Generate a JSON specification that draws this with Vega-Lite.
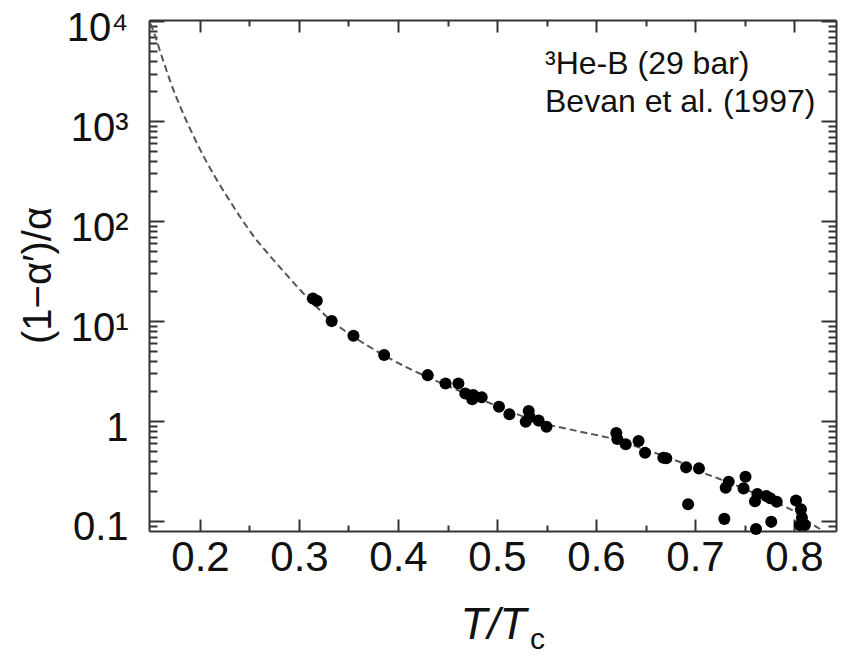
{
  "$schema": "https://vega.github.io/schema/vega-lite/v6.json",
  "width": 687,
  "height": 511,
  "autosize": {"type": "none"},
  "padding": {"left": 149, "top": 20, "right": 7, "bottom": 126},
  "background": "white",
  "config": {
    "view": {"stroke": null},
    "font": "Liberation Sans",
    "axis": {
      "domainColor": "#333",
      "domainWidth": 2,
      "tickColor": "#333",
      "tickWidth": 2,
      "labelFont": "Liberation Sans",
      "labelColor": "#111",
      "titleFont": "Liberation Sans",
      "titleColor": "#111",
      "titleFontWeight": "normal",
      "labelFlush": false,
      "labelOverlap": false,
      "labelBound": false,
      "grid": false
    }
  },
  "datasets": {
    "curve": [
      {"T": 0.150, "R": 9500},
      {"T": 0.155, "R": 7000},
      {"T": 0.160, "R": 4900},
      {"T": 0.165, "R": 3500},
      {"T": 0.170, "R": 2500},
      {"T": 0.175, "R": 1850},
      {"T": 0.180, "R": 1400},
      {"T": 0.1865, "R": 1000},
      {"T": 0.195, "R": 660},
      {"T": 0.205, "R": 420},
      {"T": 0.215, "R": 280},
      {"T": 0.230, "R": 160},
      {"T": 0.242, "R": 105},
      {"T": 0.255, "R": 69},
      {"T": 0.270, "R": 45.7},
      {"T": 0.285, "R": 31},
      {"T": 0.300, "R": 21.1},
      {"T": 0.315, "R": 14.8},
      {"T": 0.333, "R": 10.0},
      {"T": 0.355, "R": 7.0},
      {"T": 0.385, "R": 4.6},
      {"T": 0.410, "R": 3.4},
      {"T": 0.430, "R": 2.75},
      {"T": 0.450, "R": 2.25},
      {"T": 0.470, "R": 1.85},
      {"T": 0.490, "R": 1.55},
      {"T": 0.510, "R": 1.28},
      {"T": 0.530, "R": 1.08},
      {"T": 0.550, "R": 0.93},
      {"T": 0.570, "R": 0.84},
      {"T": 0.590, "R": 0.76},
      {"T": 0.610, "R": 0.69},
      {"T": 0.630, "R": 0.60},
      {"T": 0.650, "R": 0.52},
      {"T": 0.670, "R": 0.44},
      {"T": 0.690, "R": 0.37},
      {"T": 0.706, "R": 0.31},
      {"T": 0.722, "R": 0.27},
      {"T": 0.740, "R": 0.23},
      {"T": 0.760, "R": 0.19},
      {"T": 0.780, "R": 0.155},
      {"T": 0.800, "R": 0.125},
      {"T": 0.815, "R": 0.098},
      {"T": 0.830, "R": 0.079}
    ],
    "points": [
      {"T": 0.314, "R": 16.8},
      {"T": 0.318, "R": 16.0},
      {"T": 0.333, "R": 10.0},
      {"T": 0.355, "R": 7.13},
      {"T": 0.386, "R": 4.57},
      {"T": 0.430, "R": 2.88},
      {"T": 0.448, "R": 2.38},
      {"T": 0.461, "R": 2.38},
      {"T": 0.468, "R": 1.89},
      {"T": 0.476, "R": 1.82},
      {"T": 0.475, "R": 1.65},
      {"T": 0.4845, "R": 1.73},
      {"T": 0.502, "R": 1.39},
      {"T": 0.5125, "R": 1.17},
      {"T": 0.532, "R": 1.26},
      {"T": 0.533, "R": 1.10},
      {"T": 0.529, "R": 0.985},
      {"T": 0.542, "R": 1.01},
      {"T": 0.550, "R": 0.877},
      {"T": 0.6205, "R": 0.76},
      {"T": 0.6215, "R": 0.66},
      {"T": 0.630, "R": 0.585},
      {"T": 0.643, "R": 0.63},
      {"T": 0.6495, "R": 0.482},
      {"T": 0.668, "R": 0.43},
      {"T": 0.671, "R": 0.424},
      {"T": 0.691, "R": 0.344},
      {"T": 0.704, "R": 0.336},
      {"T": 0.693, "R": 0.147},
      {"T": 0.734, "R": 0.247},
      {"T": 0.731, "R": 0.215},
      {"T": 0.751, "R": 0.277},
      {"T": 0.749, "R": 0.212},
      {"T": 0.763, "R": 0.186},
      {"T": 0.7606, "R": 0.158},
      {"T": 0.772, "R": 0.178},
      {"T": 0.776, "R": 0.169},
      {"T": 0.7825, "R": 0.156},
      {"T": 0.7296, "R": 0.105},
      {"T": 0.7616, "R": 0.083},
      {"T": 0.777, "R": 0.098},
      {"T": 0.802, "R": 0.16},
      {"T": 0.807, "R": 0.131},
      {"T": 0.808, "R": 0.108},
      {"T": 0.811, "R": 0.091},
      {"T": 0.806, "R": 0.091}
    ],
    "notes": [
      {"T": 0.5485, "R": 2950, "label": "³He-B (29 bar)"},
      {"T": 0.5485, "R": 1230, "label": "Bevan et al. (1997)"}
    ]
  },
  "layer": [
    {
      "data": {"name": "curve"},
      "mark": {"type": "line", "stroke": "#555", "strokeWidth": 2, "strokeDash": [7, 4], "interpolate": "monotone", "clip": true},
      "encoding": {
        "x": {
          "field": "T", "type": "quantitative",
          "scale": {"domain": [0.1485, 0.8424], "nice": false, "zero": false},
          "axis": {
            "orient": "bottom",
            "values": [0.2, 0.25, 0.3, 0.35, 0.4, 0.45, 0.5, 0.55, 0.6, 0.65, 0.7, 0.75, 0.8],
            "labelExpr": "abs(round(datum.value*10) - datum.value*10) < 0.01 ? format(datum.value, '.1f') : ''",
            "labelFontSize": 42,
            "labelPadding": 18,
            "tickSize": {"condition": {"test": "abs(round(datum.value*10) - datum.value*10) < 0.01", "value": -12}, "value": -6},
            "title": "T/T",
            "titleFontSize": 44,
            "titleFontStyle": "italic",
            "titleX": 344,
            "titleY": 107,
            "titleAlign": "center",
            "titleBaseline": "alphabetic"
          }
        },
        "y": {
          "field": "R", "type": "quantitative",
          "scale": {"type": "log", "domain": [0.0794, 10300], "nice": false},
          "axis": {
            "orient": "left",
            "values": [0.09, 0.1, 0.2, 0.3, 0.4, 0.5, 0.6, 0.7, 0.8, 0.9, 1, 2, 3, 4, 5, 6, 7, 8, 9, 10, 20, 30, 40, 50, 60, 70, 80, 90, 100, 200, 300, 400, 500, 600, 700, 800, 900, 1000, 2000, 3000, 4000, 5000, 6000, 7000, 8000, 9000, 10000],
            "labelExpr": "datum.value == 10000 ? '10⁴' : datum.value == 1000 ? '10³' : datum.value == 100 ? '10²' : datum.value == 10 ? '10¹' : datum.value == 1 ? '1' : datum.value == 0.1 ? '0.1' : ''",
            "labelFontSize": 40,
            "labelPadding": 36,
            "labelOffset": 7,
            "tickSize": {"condition": {"test": "abs(log(datum.value)/log(10) - round(log(datum.value)/log(10))) < 0.01", "value": -15}, "value": -8},
            "title": "(1−α′)/α",
            "titleFontSize": 40,
            "titleAngle": -90,
            "titleX": -99,
            "titleY": 255,
            "titleAlign": "center",
            "titleBaseline": "alphabetic"
          }
        }
      }
    },
    {
      "data": {"name": "points"},
      "mark": {"type": "circle", "size": 145, "color": "#000", "opacity": 1},
      "encoding": {
        "x": {
          "field": "T", "type": "quantitative",
          "axis": {
            "orient": "top",
            "values": [0.2, 0.25, 0.3, 0.35, 0.4, 0.45, 0.5, 0.55, 0.6, 0.65, 0.7, 0.75, 0.8],
            "labels": false,
            "tickSize": {"condition": {"test": "abs(round(datum.value*10) - datum.value*10) < 0.01", "value": -12}, "value": -6},
            "title": "c",
            "titleFontSize": 30,
            "titleFontStyle": "normal",
            "titleX": 388,
            "titleY": 628,
            "titleAlign": "center",
            "titleBaseline": "alphabetic"
          }
        },
        "y": {
          "field": "R", "type": "quantitative",
          "axis": {
            "orient": "right",
            "values": [0.09, 0.1, 0.2, 0.3, 0.4, 0.5, 0.6, 0.7, 0.8, 0.9, 1, 2, 3, 4, 5, 6, 7, 8, 9, 10, 20, 30, 40, 50, 60, 70, 80, 90, 100, 200, 300, 400, 500, 600, 700, 800, 900, 1000, 2000, 3000, 4000, 5000, 6000, 7000, 8000, 9000, 10000],
            "labels": false,
            "tickSize": {"condition": {"test": "abs(log(datum.value)/log(10) - round(log(datum.value)/log(10))) < 0.01", "value": -15}, "value": -8},
            "title": null
          }
        }
      }
    },
    {
      "data": {"name": "notes"},
      "mark": {"type": "text", "align": "left", "baseline": "alphabetic", "fontSize": 32, "font": "Liberation Sans", "color": "#111"},
      "encoding": {
        "x": {"field": "T", "type": "quantitative", "axis": null},
        "y": {"field": "R", "type": "quantitative", "axis": null},
        "text": {"field": "label"}
      }
    }
  ],
  "resolve": {"axis": {"x": "independent", "y": "independent"}}
}
